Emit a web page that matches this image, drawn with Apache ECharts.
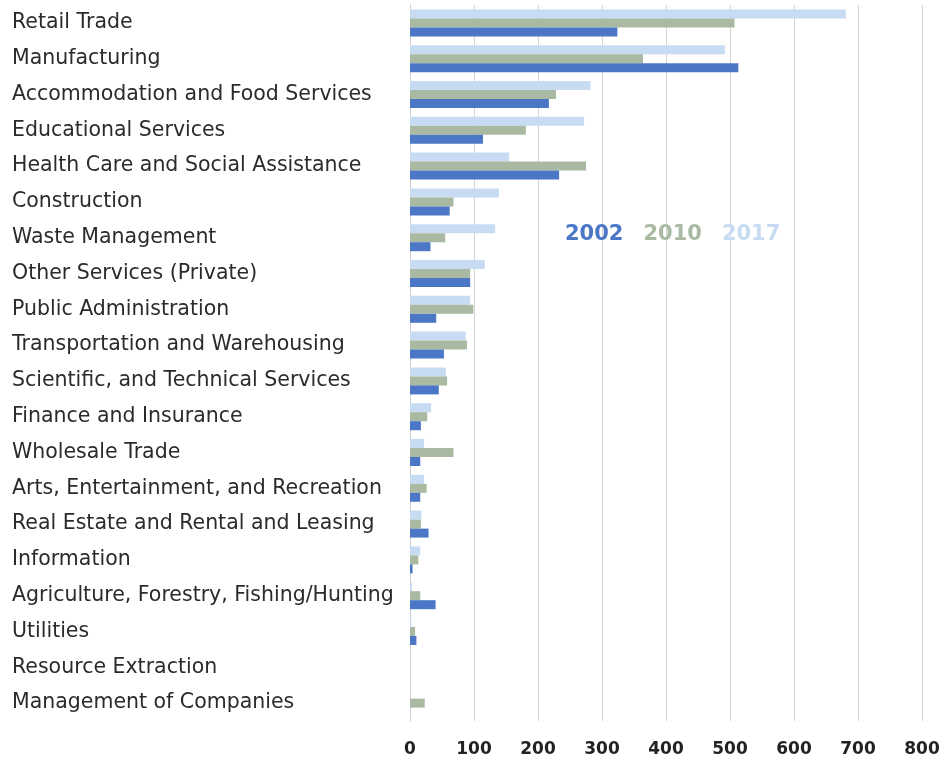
<!DOCTYPE html>
<html><head><meta charset="utf-8">
<script src="https://cdn.jsdelivr.net/npm/echarts@6/dist/echarts.min.js"></script>
<style>html,body{margin:0;padding:0;background:#fff}#c{width:945px;height:761px}</style>
</head><body><div id="c"></div>
<script>
const categories = ["Retail Trade","Manufacturing","Accommodation and Food Services","Educational Services","Health Care and Social Assistance","Construction","Waste Management","Other Services (Private)","Public Administration","Transportation and Warehousing","Scientific, and Technical Services","Finance and Insurance","Wholesale Trade","Arts, Entertainment, and Recreation","Real Estate and Rental and Leasing","Information","Agriculture, Forestry, Fishing/Hunting","Utilities","Resource Extraction","Management of Companies"];
const v2002 = [324,513,217,114,233,62,32,94,41,53,45,17,16,16,29,4,40,10,0,0];
const v2010 = [507,364,228,181,275,68,55,94,99,89,58,27,68,26,17,13,16,8,0,23];
const v2017 = [681,492,282,272,155,139,133,117,94,87,56,33,22,22,18,16,3,2,0,0];
const xTicks = [0,100,200,300,400,500,600,700,800];

const colors = {"2002":"#4b77c6","2010":"#a9b9a2","2017":"#c7dcf3"};
const chart = echarts.init(document.getElementById('c'));
chart.setOption({
  animation:false,
  grid:{left:410,right:23,top:5,bottom:40},
  legend:{
    left:555, top:219, itemWidth:0, itemHeight:0, itemGap:15,
    data:[
      {name:'2002',textStyle:{color:colors['2002']}},
      {name:'2010',textStyle:{color:colors['2010']}},
      {name:'2017',textStyle:{color:colors['2017']}}
    ],
    textStyle:{fontFamily:'DejaVu Sans, sans-serif',fontWeight:'bold',fontSize:21,padding:0},
    selectedMode:false
  },
  xAxis:{type:'value',min:xTicks[0],max:xTicks[xTicks.length-1],interval:100,
    axisLine:{show:false},axisTick:{show:false},
    splitLine:{lineStyle:{color:'#d4d4d4',width:1}},
    axisLabel:{margin:20,color:'#222',fontFamily:'DejaVu Sans, sans-serif',fontWeight:'bold',fontSize:17}
  },
  yAxis:{type:'category',data:categories,inverse:true,
    axisLine:{lineStyle:{color:'#cfcfcf'}},axisTick:{show:false},
    axisLabel:{align:'left',margin:398,color:'#2b2b2b',fontFamily:'DejaVu Sans, sans-serif',fontSize:20.5}
  },
  series:[
    {name:'2017',type:'bar',data:v2017,itemStyle:{color:colors['2017']},barWidth:9,barGap:'0%'},
    {name:'2010',type:'bar',data:v2010,itemStyle:{color:colors['2010']},barWidth:9,barGap:'0%'},
    {name:'2002',type:'bar',data:v2002,itemStyle:{color:colors['2002']},barWidth:9,barGap:'0%'}
  ]
});
</script></body></html>
